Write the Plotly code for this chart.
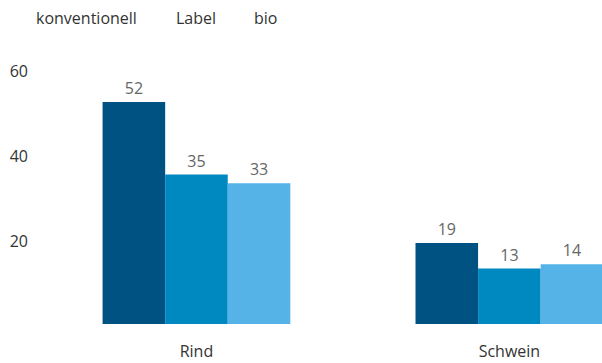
import plotly.graph_objects as go

categories = ["Rind", "Schwein"]
series_names = ["konventionell", "Label", "bio"]
konventionell = [52, 19]
label_vals = [35, 13]
bio = [33, 14]
colors = ["#005283", "#0089c1", "#55b3e8"]
y_ticks = [20, 40, 60]

FONT = "Open Sans"
L, T, B, W, H = 40, 50, 39, 602, 363
PW, PH = W - L, H - T - B

fig = go.Figure()
for name, vals, col in zip(series_names, [konventionell, label_vals, bio], colors):
    fig.add_trace(go.Bar(
        x=categories, y=vals, name=name, marker=dict(color=col, line=dict(width=0)),
        text=[str(v) for v in vals], textposition="outside",
        textfont=dict(family=FONT, size=16, color="#666666"),
        cliponaxis=False, showlegend=False,
    ))

legend_x = [34, 174, 252]
for name, lx in zip(series_names, legend_x):
    fig.add_annotation(text=name, x=(lx - L) / PW, y=(H - B - 18) / PH,
                       xref="paper", yref="paper",
                       xanchor="left", yanchor="middle", showarrow=False,
                       font=dict(family=FONT, size=16, color="#333333"))

fig.update_layout(
    width=W, height=H,
    margin=dict(l=L, r=0, t=T, b=B),
    paper_bgcolor="white", plot_bgcolor="white",
    barmode="group", bargap=0.4, bargroupgap=0,
    font=dict(family=FONT, size=16, color="#333333"),
    xaxis=dict(range=[-0.5, 1.296], showgrid=False, zeroline=False, showline=False,
               ticks="", ticklabelstandoff=16, tickfont=dict(size=16, color="#333333")),
    yaxis=dict(range=[0, 64.2], tickvals=y_ticks, showgrid=False, zeroline=False,
               showline=False, ticks="", ticklabelstandoff=11, ticklabelshift=3,
               tickfont=dict(size=16, color="#333333")),
)
fig.write_html("out.html")
